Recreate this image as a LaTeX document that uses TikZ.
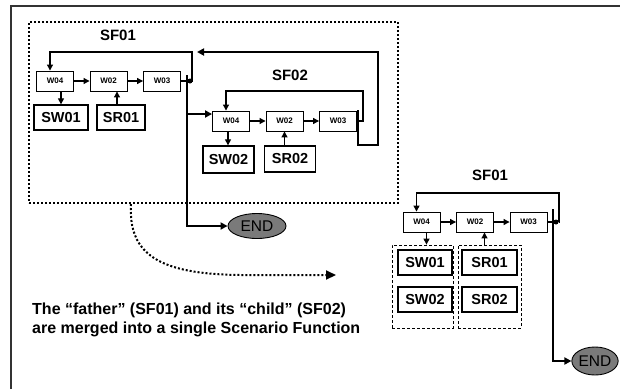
\documentclass[tikz,border=0pt]{standalone}
\usepackage{fontspec}
\setmainfont{Liberation Sans}
\usetikzlibrary{positioning,arrows.meta,shapes.geometric}
\tikzset{
  wbox/.style={
    rectangle,
    draw=black, line width=0.9pt,
    minimum width=37pt,
    minimum height=20pt,
    inner sep=0pt,
    font=\fontsize{8}{9}\selectfont\bfseries},
  sbox/.style={
    rectangle,
    draw=black, line width=1.3pt,
    minimum width=54pt,
    minimum height=25pt,
    inner sep=0pt,
    font=\fontsize{14.5}{16}\selectfont\bfseries},
  endnode/.style={
    ellipse,
    draw=black, line width=0.9pt,
    fill=black!52,
    minimum width=58pt,
    minimum height=25pt,
    inner sep=0pt,
    font=\fontsize{15.5}{16}\selectfont},
  sflabel/.style={font=\fontsize{15}{16}\selectfont\bfseries},
  junction/.style={circle, fill=black, inner sep=0pt, minimum size=5pt},
  groupbox/.style={draw=black, line width=0.8pt, dash pattern=on 3pt off 2pt, inner sep=0pt},
  mergebox/.style={draw=black, line width=2pt, dotted, inner sep=0pt},
  flow/.style={draw, line width=1.1pt, -{Triangle[length=6pt,width=6pt]}},
  mainflow/.style={draw, line width=2pt, -{Triangle[length=7pt,width=7pt]}},
  mergearrow/.style={draw, line width=2pt, dotted, -{Triangle[length=10pt,width=9pt]}},
}
\begin{document}
\begin{tikzpicture}
[x=1pt, y=-1pt, node distance=53.5pt]

    \useasboundingbox (0,0) rectangle (620,389);
    \draw[line width=1.8pt, black!80] (11,389) -- (11,6) -- (620,6);

    % father SF01 with its child SF02
    \node [mergebox, minimum width=369pt, minimum height=181pt] (sfbox) at (213.5,112.5) {};
    \node [sflabel] (sf01a) at (118,35) {SF01};
    \node [wbox] (w04a) at (55,81) {W04};
    \node [wbox, right of=w04a] (w02a) {W02};
    \node [wbox, right of=w02a] (w03a) {W03};
    \node [sbox] (sw01a) at (61,117.5) {SW01};
    \node [sbox, minimum width=48pt] (sr01a) at (121,117.5) {SR01};
    \node [junction] (outa) at (190,81) {};
    \coordinate (loopa) at (192,52);
    \coordinate (trunka) at (187,75);
    \coordinate (brancha) at (187,114);

    \node [sflabel] (sf02b) at (290,75) {SF02};
    \node [wbox] (w04b) at (231,121) {W04};
    \node [wbox, right of=w04b] (w02b) {W02};
    \node [wbox, right of=w02b] (w03b) {W03};
    \node [sbox, minimum width=51pt, minimum height=27pt] (sw02b) at (228.5,159.5) {SW02};
    \node [sbox, minimum width=51pt, minimum height=26pt] (sr02b) at (290,159) {SR02};
    \coordinate (loopb) at (363,91);
    \coordinate (retb) at (358,110);
    \coordinate (retc) at (378,145);
    \node [endnode] (enda) at (257,226) {END};

    \draw[flow] (w04a) -- (w02a);
    \draw[flow] (w02a) -- (w03a);
    \draw[flow] (w04a.south -| sw01a.north) -- (sw01a.north);
    \draw[flow] ([xshift=-4pt]sr01a.north) -- ([xshift=-4pt]sr01a.north |- w02a.south);
    \draw[flow, -] (w03a.east) -- (outa);
    \draw[flow] (outa) -- (outa -| loopa) -- (loopa) -| ([xshift=-5pt]w04a.north);
    \draw[mainflow] (trunka) |- (enda.west);
    \draw[mainflow] (brancha) -- (brancha -| w04b.west);

    \draw[flow] (w04b) -- (w02b);
    \draw[flow] (w02b) -- (w03b);
    \draw[flow] ([xshift=-3pt]w04b.south) -- ([xshift=-3pt]w04b.south |- sw02b.north);
    \draw[flow] (w02b.south |- sr02b.north) -- (w02b.south);
    \draw[flow] (w03b.east) -- (w03b.east -| loopb) -- (loopb) -| ([xshift=-5pt]w04b.north);
    \draw[mainflow] (retb) |- (retc) -- (retc |- loopa) -- ([xshift=5pt]loopa);

    % merging
    \coordinate (mergestart) at (131,204);
    \coordinate (mergeend) at (336,275);
    \draw[mergearrow] (mergestart) .. controls (128,255) and (160,274) .. (240,275) -- (mergeend);
    \node [anchor=north west, align=left, inner sep=0pt,
           font=\fontsize{16}{19}\selectfont\bfseries] (note) at (32,303)
          {The “father” (SF01) and its “child” (SF02)\\are merged into a single Scenario Function};

    % the single SF01
    \node [sflabel] (sf01c) at (490,175) {SF01};
    \node [wbox] (w04c) at (421.5,222) {W04};
    \node [wbox, right of=w04c] (w02c) {W02};
    \node [wbox, right of=w02c] (w03c) {W03};
    \node [groupbox, minimum width=61pt, minimum height=83pt] (wgroup) at (422.5,286.5) {};
    \node [groupbox, minimum width=63pt, minimum height=83pt] (rgroup) at (489.5,286.5) {};
    \node [sbox] (sw01c) at (425,262.5) {SW01};
    \node [sbox] (sw02c) at (425,299.5) {SW02};
    \node [sbox, minimum width=55pt] (sr01c) at (489.5,262.5) {SR01};
    \node [sbox, minimum width=55pt] (sr02c) at (489.5,299.5) {SR02};
    \node [junction] (outc) at (556,222) {};
    \coordinate (loopc) at (559,193);
    \coordinate (trunkc) at (553,209);
    \node [endnode, minimum width=46pt, minimum height=28pt] (endc) at (595,361) {END};

    \draw[flow] (w04c) -- (w02c);
    \draw[flow] (w02c) -- (w03c);
    \draw[flow] ([xshift=5pt]w04c.south) -- ([xshift=5pt]w04c.south |- wgroup.north);
    \draw[flow] ([xshift=-5pt]rgroup.north) -- ([xshift=-5pt]rgroup.north |- w02c.south);
    \draw[flow, -] (w03c.east) -- (outc);
    \draw[flow] (outc) -- (outc -| loopc) -- (loopc) -| ([xshift=-5pt]w04c.north);
    \draw[mainflow] (trunkc) |- (endc.west);

\end{tikzpicture}
\end{document}
